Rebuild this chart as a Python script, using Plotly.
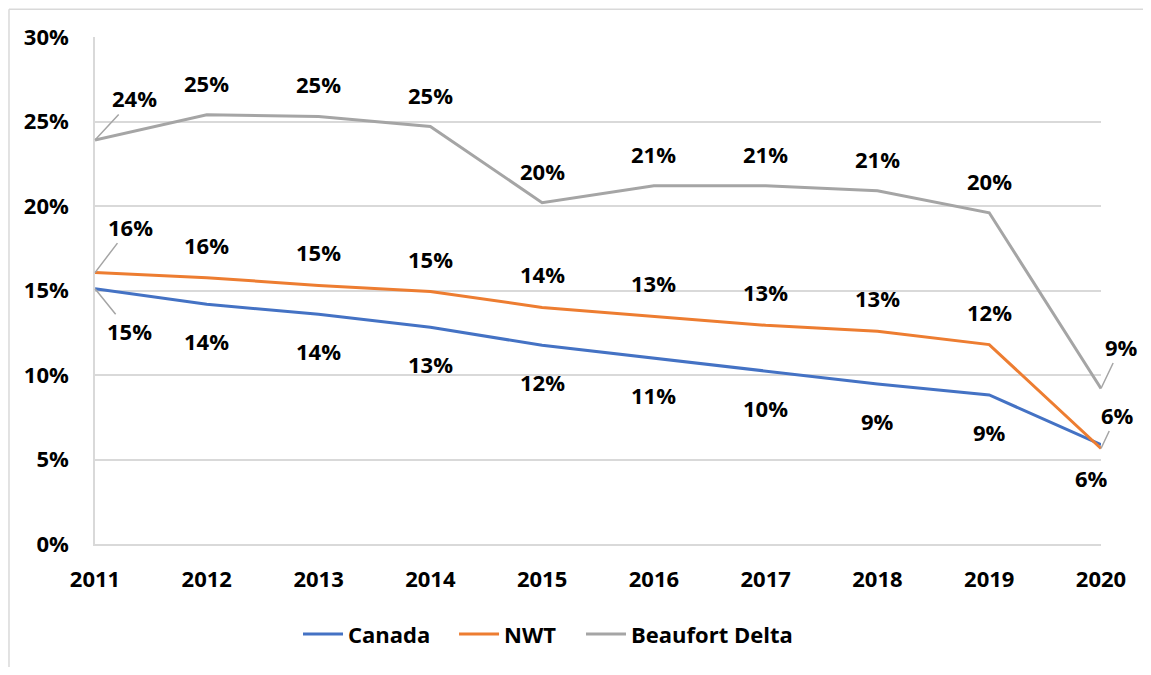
import plotly.graph_objects as go

years = [2011, 2012, 2013, 2014, 2015, 2016, 2017, 2018, 2019, 2020]
canada = [0.151, 0.1418, 0.1359, 0.1282, 0.1176, 0.110, 0.1024, 0.0947, 0.0882, 0.0588]
nwt = [0.1606, 0.1576, 0.153, 0.1494, 0.140, 0.1347, 0.1294, 0.1259, 0.118, 0.0565]
beaufort = [0.239, 0.254, 0.253, 0.247, 0.202, 0.212, 0.212, 0.209, 0.196, 0.092]
y_ticks = [0, 0.05, 0.10, 0.15, 0.20, 0.25, 0.30]

series = [
    ("Canada", canada, "#4472C4", 37, "legend"),
    ("NWT", nwt, "#ED7D31", -33, "legend2"),
    ("Beaufort Delta", beaufort, "#A5A5A5", -32, "legend3"),
]

# special label placements (pixel offsets): (series, index) -> (ax, ay, arrow)
special = {
    ("Beaufort Delta", 0): (39, -42, True),
    ("NWT", 0): (35, -46, True),
    ("Canada", 0): (34, 42, True),
    ("Beaufort Delta", 9): (20, -42, True),
    ("NWT", 9): (16, -34, True),
    ("Canada", 9): (-10, 33, False),
}

FONT = "Open Sans"
FS = 22
lab_font = dict(size=FS, family=FONT, color="#000", weight="bold")
fig = go.Figure()
annotations = []
for name, vals, color, off, leg in series:
    fig.add_trace(go.Scatter(x=years, y=vals, mode="lines", name=name, legend=leg,
                             line=dict(color=color, width=3)))
    for i, (xv, yv) in enumerate(zip(years, vals)):
        txt = f"{yv*100:.0f}%"
        key = (name, i)
        if key in special:
            ax, ay, arrow = special[key]
            if arrow:
                annotations.append(dict(x=xv, y=yv, text=txt, showarrow=True,
                                        arrowhead=0, arrowwidth=1.5, arrowcolor="#A5A5A5",
                                        ax=ax, ay=ay, font=lab_font))
            else:
                annotations.append(dict(x=xv, y=yv, text=txt, showarrow=False,
                                        xshift=ax, yshift=-ay, font=lab_font))
        else:
            annotations.append(dict(x=xv, y=yv, text=txt, showarrow=False, yshift=-off,
                                    font=lab_font))

leg_common = dict(orientation="h", xanchor="left", y=-0.178, yanchor="middle",
                  font=dict(size=FS, family=FONT, color="#000", weight="bold"),
                  itemwidth=40, bgcolor="rgba(0,0,0,0)")

fig.update_layout(
    width=1135, height=659,
    margin=dict(l=87, r=42, t=29, b=120),
    paper_bgcolor="white", plot_bgcolor="white",
    font=dict(family=FONT, size=FS, color="#000", weight="bold"),
    annotations=annotations,
    showlegend=True,
    legend=dict(x=0.2018, **leg_common),
    legend2=dict(x=0.3569, **leg_common),
    legend3=dict(x=0.4831, **leg_common),
    shapes=[
        dict(type="line", xref="paper", yref="paper", x0=-0.0855, x1=1.042, y0=1.0549, y1=1.0549,
             line=dict(color="#D9D9D9", width=1.5)),
        dict(type="line", xref="paper", yref="paper", x0=-0.0855, x1=-0.0855, y0=1.0549, y1=-0.26,
             line=dict(color="#D9D9D9", width=1.5)),
    ],
)
fig.update_xaxes(range=[2011, 2020], tickvals=years, ticktext=[str(y) for y in years],
                 showgrid=False, showline=True, linecolor="#D9D9D9", linewidth=1.5,
                 ticks="", ticklabelstandoff=15, zeroline=False)
fig.update_yaxes(range=[0, 0.30], tickvals=y_ticks, tickformat=".0%",
                 showgrid=True, gridcolor="#D9D9D9", gridwidth=1.5,
                 showline=True, linecolor="#D9D9D9", linewidth=1.5,
                 ticks="", ticklabelstandoff=20, zeroline=False)

fig.write_html("out.html")
